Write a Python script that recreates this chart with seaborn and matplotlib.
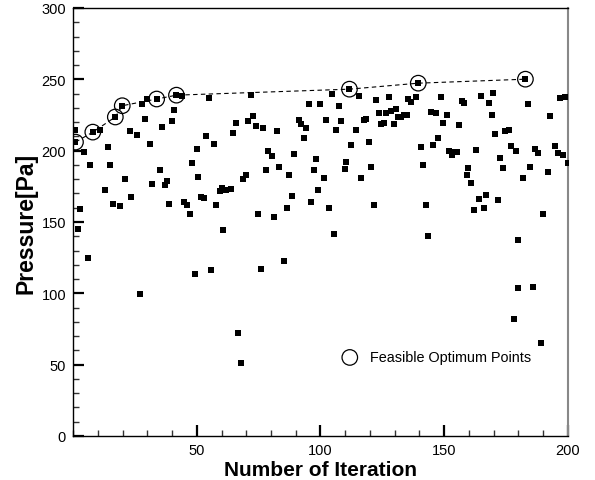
import numpy as np
import pandas as pd
import seaborn as sns
from matplotlib import pyplot as plt
from matplotlib.ticker import MultipleLocator

# 每次迭代的壓力值
iteration = [
    1, 1, 2, 3, 4.3, 6.2, 6.8, 8, 11, 12.9, 14.1, 14.9, 16.1, 17.1, 18.9, 19.9,
    20.9, 22.9, 23.6, 25.8, 27, 27.8, 29, 29.8, 31, 31.8, 33.8, 35, 35.8, 37,
    37.8, 38.9, 39.8, 41, 41.8, 43.9, 45, 45.9, 47.1, 47.9,
    49.1, 49.9, 50.7, 51.9, 53.1, 53.9, 55.1, 55.9, 57.1, 57.9, 59.2, 60,
    60.8, 62, 64, 64.8, 66, 66.8, 68, 68.8, 70, 70.8, 72, 72.8, 74, 74.8,
    76.1, 76.9, 78.1, 78.9, 80.3, 81.1, 82.4, 83.2, 85.2, 86.4, 87.2, 88.4,
    89.3, 91.3, 92.2, 93.4, 94.2, 95.4, 96.2, 97.4, 98.2, 99.1, 99.7,
    101.6, 102.4, 103.6, 104.6, 105.5, 106.4, 107.5, 108.4, 109.7, 110.5,
    111.7, 112.5, 114.5, 115.7, 116.5, 117.7, 118.5, 119.7, 120.5, 121.7,
    122.5, 123.7, 124.5, 125.8, 126.6, 127.8, 128.6, 129.8, 130.6, 131.4,
    132.6, 133.8, 135, 135.5, 136.7, 138.7, 139.5, 140.7, 141.5, 142.8,
    143.6, 144.8, 145.6, 146.8, 147.6, 148.8, 149.6,
    151, 151.8, 153, 154.2, 155, 155.8, 157, 157.8, 159, 159.8, 161, 161.9,
    162.7, 163.9, 164.7, 165.9, 166.7, 167.9, 169.1, 169.9, 170.7, 171.9,
    172.7, 173.9, 174.7, 176, 176.8, 178, 178.8, 180, 180, 182, 182.8, 184,
    184.8, 186, 186.8, 188, 189, 190, 192, 192.9, 194.9, 196.1, 196.9,
    198.1, 198.9, 200,
]
pressure = [
    206, 214.5, 145, 159, 199, 125, 190, 213, 214.5, 172.7, 202.6, 190, 162.7,
    223.6, 161.3, 231.5, 180.2, 213.8, 167.6, 211.2, 99.8, 232.4, 222.2, 236.2,
    204.9, 176.7, 236.2, 186.7, 216.6, 176, 178.8, 162.7, 220.8, 228.5, 238.9,
    238, 164.1, 162.2, 155.7, 191.4,
    113.8, 201.2, 181.6, 167.6, 166.9, 210.3, 236.8, 116.6, 204.7, 162, 171.8,
    173.9, 144.5, 172.5, 173.4, 212.4, 219.4, 72.5, 51.5, 180.2, 183, 220.8,
    239.2, 224.3, 217.3, 155.7, 117.3, 215.9, 186.5, 199.8, 196.3, 153.6,
    213.8, 188.6, 122.9, 159.9, 183, 168.3, 197.7, 221.5, 218.7, 208.9, 215.9,
    232.7, 164.1, 186.5, 194.2, 172.5, 232.7,
    180.9, 221.5, 159.9, 239.6, 141.7, 214.5, 231.5, 220.8, 187.2, 192.1,
    243.1, 204, 214.5, 238, 180.9, 221.5, 222.2, 206.1, 188.6, 162, 235.4,
    226.4, 218.7, 219.4, 226.4, 237.8, 227.8, 218.7, 229.2, 223.6, 223.6,
    225, 225, 236.2, 234.1, 237.8, 247.3, 202.6, 190, 162, 140.3, 227.1, 204,
    226.4, 208.9, 237.8, 219.4,
    225, 199.8, 197, 199.1, 199.1, 218, 234.8, 233.4, 183, 187.9, 177.4,
    158.5, 200.5, 166.2, 238.3, 159.9, 169, 233.4, 225, 240.3, 211.7, 165.5,
    194.9, 187.9, 213.8, 214.5, 203.3, 82.3, 199.8, 137.6, 104, 180.9, 250.1,
    232.7, 188.6, 104.7, 201.2, 198.4, 65.5, 155.7, 185.1, 224.3, 203.3,
    198.4, 236.8, 197, 237.6, 191.4,
]

# 可行最佳點
opt_iteration = [1, 8, 17.1, 19.9, 33.8, 41.8, 111.7, 139.5, 182.8]
opt_pressure = [206, 213, 223.6, 231.5, 236.2, 238.9, 243.1, 247.3, 250.1]

df = pd.DataFrame({'iteration': iteration, 'pressure': pressure})
opt = pd.DataFrame({'iteration': opt_iteration, 'pressure': opt_pressure})

plt.rcParams['font.family'] = ['Liberation Sans', 'DejaVu Sans']

fig = plt.figure(figsize=(5.95, 4.81), dpi=100)
ax = fig.add_axes([0.1227, 0.0915, 0.8319, 0.8898])

# 連接最佳點的虛線
sns.lineplot(data=opt, x='iteration', y='pressure', sort=False, ax=ax,
             color='black', linewidth=0.8, linestyle=(0, (4, 3)))
# 所有迭代點
sns.scatterplot(data=df, x='iteration', y='pressure', ax=ax, marker='s',
                color='black', s=18, linewidth=0, zorder=3)
# 圈出最佳點
ax.scatter(opt['iteration'], opt['pressure'], s=125, facecolors='none',
           edgecolors='black', linewidths=0.9, zorder=4,
           label='Feasible Optimum Points')

ax.set_xlim(0, 200)
ax.set_ylim(0, 300)
ax.set_xticks([50, 100, 150, 200])
ax.set_yticks([0, 50, 100, 150, 200, 250, 300])
ax.xaxis.set_minor_locator(MultipleLocator(10))
ax.yaxis.set_minor_locator(MultipleLocator(10))
ax.tick_params(axis='both', which='major', direction='in', length=8,
               width=1.6, color='black', labelsize=10.5, pad=5,
               bottom=True, left=True, top=False, right=False)
ax.tick_params(axis='both', which='minor', direction='in', length=4.5,
               width=1.0, color='#333333',
               bottom=True, left=True, top=False, right=False)

for side in ['left', 'bottom', 'top']:
    ax.spines[side].set_color('black')
    ax.spines[side].set_linewidth(1.0)
ax.spines['right'].set_color('#888888')
ax.spines['right'].set_linewidth(1.5)

ax.set_xlabel('Number of Iteration', fontsize=15, fontweight='bold', labelpad=2)
ax.set_ylabel('Pressure[Pa]', fontsize=16.5, fontweight='bold', labelpad=3)

ax.legend(loc='center left', bbox_to_anchor=(0.53, 0.184), frameon=False,
          fontsize=10.4, handlelength=1.2, handletextpad=0.8, borderaxespad=0)

fig.savefig('out.png', dpi=100)
